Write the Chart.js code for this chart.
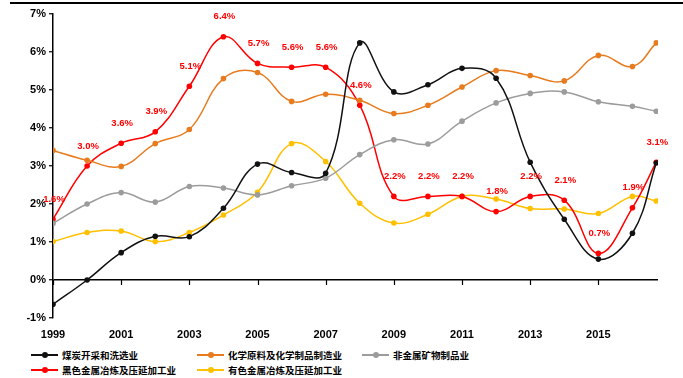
<!DOCTYPE html>
<html>
<head>
<meta charset="utf-8">
<script src="https://cdn.jsdelivr.net/npm/chart.js@4/dist/chart.umd.min.js"></script>
<style>
    body { margin: 0; background: #fff; }
    #page { position: relative; width: 683px; height: 378px; overflow: hidden; }
    #rule { position: absolute; top: 2px; left: 10px; right: 0; height: 2px; background: #000; }
    #plot { position: absolute; top: 0; left: 0; width: 683px; height: 345px; }
    #legend {
        position: absolute; left: 31px; top: 347px;
        display: grid; grid-template-columns: 166px 165px 200px; grid-auto-rows: 15px;
        font: bold 9.5px "Noto Sans CJK SC", sans-serif; color: #000;
    }
    .item { display: flex; align-items: center; white-space: nowrap; }
    .swatch { position: relative; width: 27px; height: 2px; margin-right: 4px; }
    .swatch i { position: absolute; left: 10.5px; top: -2px; width: 6px; height: 6px; border-radius: 50%; }
</style>
</head>
<body>
<div id="page">
    <div id="rule"></div>
    <div id="plot"><canvas id="chart"></canvas></div>
    <div id="legend"></div>
</div>
<script>
// x position of each point (last one is the partial year)
const yearPos = [1999, 2000, 2001, 2002, 2003, 2004, 2005, 2006, 2007, 2008, 2009, 2010, 2011, 2012, 2013, 2014, 2015, 2016, 2016.7]
const xTicks = [1999, 2001, 2003, 2005, 2007, 2009, 2011, 2013, 2015]

const coal = [-0.64, 0.0, 0.72, 1.15, 1.14, 1.89, 3.05, 2.83, 2.81, 6.24, 4.95, 5.14, 5.57, 5.31, 3.10, 1.60, 0.55, 1.23, 3.08]
const chemical = [3.41, 3.15, 2.99, 3.59, 3.96, 5.30, 5.46, 4.70, 4.89, 4.73, 4.38, 4.60, 5.08, 5.51, 5.38, 5.24, 5.91, 5.62, 6.24]
const nonMetal = [1.49, 2.00, 2.30, 2.05, 2.46, 2.42, 2.24, 2.48, 2.68, 3.30, 3.69, 3.58, 4.18, 4.66, 4.91, 4.95, 4.69, 4.57, 4.44]
const ferrous = [1.6, 3.0, 3.6, 3.9, 5.1, 6.4, 5.7, 5.6, 5.6, 4.6, 2.2, 2.2, 2.2, 1.8, 2.2, 2.1, 0.7, 1.9, 3.1]
const nonFerrous = [1.01, 1.25, 1.29, 1.01, 1.25, 1.71, 2.31, 3.59, 3.12, 2.02, 1.50, 1.73, 2.20, 2.13, 1.88, 1.87, 1.75, 2.20, 2.08]

const seriesNames = ['煤炭开采和洗选业', '化学原料及化学制品制造业', '非金属矿物制品业', '黑色金属冶炼及压延加工业', '有色金属冶炼及压延加工业']
const seriesColors = ['#111111', '#e77b1e', '#9c9c9c', '#ff0000', '#ffc000']
const seriesValues = [coal, chemical, nonMetal, ferrous, nonFerrous]

const tickFont = { family: '"Liberation Sans", Arial, sans-serif', size: 11, weight: 'bold' }

const datasets = seriesValues.map((values, i) => ({
    label: seriesNames[i],
    data: values.map((v, j) => ({ x: yearPos[j], y: v })),
    borderColor: seriesColors[i],
    backgroundColor: seriesColors[i],
    borderWidth: 1.5,
    pointRadius: 2.8,
    pointBorderWidth: 0,
    tension: 0.4,
    showValues: values === ferrous
}))

// value labels above the ferrous-metal line
const valueLabels = {
    id: 'valueLabels',
    afterDatasetsDraw(chart) {
        const ctx = chart.ctx
        chart.data.datasets.forEach((dataset, i) => {
            if (!dataset.showValues) return
            const meta = chart.getDatasetMeta(i)
            ctx.save()
            ctx.font = 'bold 9.5px "Liberation Sans", Arial, sans-serif'
            ctx.fillStyle = '#ff0000'
            ctx.textAlign = 'center'
            ctx.textBaseline = 'middle'
            meta.data.forEach((pt, j) => ctx.fillText(dataset.data[j].y.toFixed(1) + '%', pt.x + 1, pt.y - 20))
            ctx.restore()
        })
    }
}

// tick marks hanging below the 0% line
const zeroAxisTicks = {
    id: 'zeroAxisTicks',
    beforeDatasetsDraw(chart) {
        const { ctx, scales: { x, y } } = chart
        const y0 = y.getPixelForValue(0)
        ctx.save()
        ctx.strokeStyle = '#000'
        ctx.lineWidth = 1.2
        x.ticks.forEach(t => {
            const px = Math.round(x.getPixelForValue(t.value)) + 0.5
            ctx.beginPath()
            ctx.moveTo(px, y0)
            ctx.lineTo(px, y0 + 5)
            ctx.stroke()
        })
        ctx.restore()
    }
}

const chart = new Chart(document.getElementById('chart'), {
    type: 'line',
    data: { datasets },
    options: {
        responsive: true,
        maintainAspectRatio: false,
        animation: false,
        layout: { padding: { top: 14, right: 25, bottom: 0, left: 0 } },
        plugins: { legend: { display: false }, tooltip: { enabled: false } },
        scales: {
            x: {
                type: 'linear',
                min: 1999,
                max: 2016.75,
                afterBuildTicks: scale => { scale.ticks = xTicks.map(v => ({ value: v })) },
                afterFit: scale => { scale.height = 27 },
                grid: { display: false, drawTicks: false },
                border: { display: false },
                ticks: { color: '#000', font: tickFont, padding: 10, maxRotation: 0, callback: v => String(v) }
            },
            y: {
                min: -1,
                max: 7,
                afterFit: scale => { scale.width = 53 },
                grid: {
                    color: c => c.tick && c.tick.value === 0 ? '#000' : 'rgba(0,0,0,0)',
                    lineWidth: 1.5,
                    tickColor: '#000',
                    tickLength: 4,
                    tickWidth: 1.2
                },
                border: { display: true, color: '#000', width: 1.5 },
                ticks: { stepSize: 1, color: '#000', font: tickFont, padding: 3, callback: v => v + '%' }
            }
        }
    },
    plugins: [zeroAxisTicks, valueLabels]
})

const legend = document.getElementById('legend')
chart.data.datasets.forEach(dataset => {
    const item = document.createElement('div')
    item.className = 'item'
    item.innerHTML = `<span class="swatch" style="background:${dataset.borderColor}"><i style="background:${dataset.borderColor}"></i></span>${dataset.label}`
    legend.appendChild(item)
})
</script>
</body>
</html>
